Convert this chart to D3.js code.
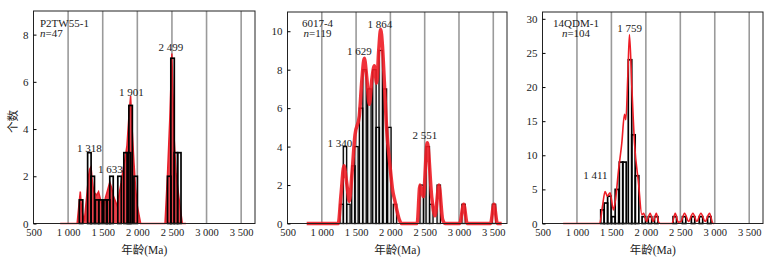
<!DOCTYPE html>
<html>
<head>
<meta charset="utf-8">
<script src="https://cdn.jsdelivr.net/npm/d3@7/dist/d3.min.js"></script>
<style>
  body { margin: 0; background: #fff; }
  text { font-family: "Liberation Serif", "Times New Roman", serif; fill: #222; }
  .cjk { font-family: "Noto Sans CJK SC", sans-serif; }
</style>
</head>
<body>
<script>
// ---- data ----
const xTicks = [500, 1000, 1500, 2000, 2500, 3000, 3500];
const gridAges = [1000, 1500, 2000, 2500, 3000, 3500];
const binWidth = 50;

// P2TW55-1
const p1Name = "P2TW55-1", p1N = 47;
const p1Start = [1162, 1282, 1331, 1394, 1442, 1515, 1554, 1602, 1718, 1805, 1855, 1878, 1951, 2436, 2484, 2533, 2581];
const p1Count = [1, 3, 2, 1, 1, 1, 1, 2, 2, 3, 3, 5, 2, 2, 7, 3, 3];
const p1CurveAge = [885, 1130, 1160, 1176, 1195, 1234, 1270, 1297, 1312, 1331, 1350, 1370, 1410, 1440, 1470, 1505, 1540, 1564, 1602, 1630, 1651, 1709, 1740, 1767, 1800, 1815, 1850, 1880, 1903, 1925, 1951, 1975, 2000, 2048, 2400, 2436, 2470, 2499, 2515, 2533, 2560, 2605, 2650, 2702];
const p1CurveVal = [0, 0, 0.9, 1.35, 0.6, 0.1, 1.2, 2.05, 2.3, 2.4, 1.8, 1.35, 1.2, 1.35, 1.0, 0.6, 1.1, 1.35, 1.75, 1.5, 1.2, 0.75, 1.3, 1.75, 2.4, 2.6, 3.3, 4.6, 5.4, 4.0, 2.6, 1.5, 0.75, 0, 0, 2.1, 4.5, 7.2, 5.5, 3.55, 2.1, 1.0, 0, 0];
const p1PeakText = ["1 318", "1 633", "1 901", "2 499"];
const p1PeakAge = [1307, 1612, 1913, 2484];
const p1PeakVal = [3.02, 2.16, 5.42, 7.29];

// 6017-4
const p2Name = "6017-4", p2N = 119;
const p2Start = [1265, 1313, 1363, 1436, 1480, 1547, 1598, 1669, 1742, 1790, 1834, 1895, 1960, 2042, 2431, 2520, 2572, 2680, 3042, 3485];
const p2Count = [1, 4, 1, 3, 4, 6, 8, 7, 8, 5, 9, 7, 5, 1, 2, 4, 1, 2, 1, 1];
const p2CurveAge = [780, 1240, 1280, 1323, 1360, 1401, 1440, 1484, 1547, 1585, 1620, 1655, 1693, 1730, 1766, 1800, 1830, 1858, 1885, 1907, 1946, 1994, 2030, 2067, 2130, 2160, 2390, 2431, 2480, 2538, 2602, 2650, 2708, 2762, 2800, 3010, 3069, 3120, 3460, 3510, 3560, 3622];
const p2CurveVal = [0, 0, 1.5, 3.0, 2.2, 1.15, 2.6, 4.6, 5.6, 7.5, 8.6, 7.6, 6.2, 7.5, 8.2, 7.3, 9.0, 10.1, 9.2, 7.7, 4.9, 3.0, 1.8, 1.15, 0.2, 0, 0, 2.0, 1.4, 4.2, 1.4, 0.4, 2.0, 0.2, 0, 0, 1.0, 0, 0, 1.0, 0, 0];
const p2PeakText = ["1 340", "1 629", "1 864", "2 551"];
const p2PeakAge = [1265, 1547, 1848, 2504];
const p2PeakVal = [4.0, 8.75, 10.15, 4.37];

// 14QDM-1
const p3Name = "14QDM-1", p3N = 104;
const p3Start = [1345, 1395, 1445, 1505, 1555, 1615, 1665, 1745, 1795, 1848, 1945, 2035, 2125, 2395, 2530, 2660, 2775, 2895];
const p3Count = [2, 3, 4, 1, 5, 9, 9, 24, 13, 7, 1, 1, 1, 1, 1, 1, 1, 1];
const p3CurveAge = [800, 1330, 1370, 1408, 1440, 1481, 1529, 1560, 1602, 1651, 1690, 1710, 1738, 1762, 1796, 1835, 1893, 1942, 1968, 2010, 2062, 2105, 2152, 2185, 2210, 2380, 2426, 2470, 2510, 2561, 2620, 2683, 2740, 2799, 2860, 2924, 2975, 2992];
const p3CurveVal = [0, 0, 2.5, 4.7, 4.0, 4.5, 2.0, 3.5, 7.7, 11.8, 16.0, 15.2, 21.6, 27.7, 20.1, 11.8, 6.0, 1.3, 1.5, 0.3, 1.5, 0.3, 1.5, 0.2, 0, 0, 1.5, 0.2, 0.3, 1.5, 0.3, 1.5, 0.3, 1.5, 0.3, 1.5, 0, 0];
const p3PeakText = ["1 411", "1 759"];
const p3PeakAge = [1268, 1765];
const p3PeakVal = [6.48, 28.1];

// ---- layout ----
const W = 776, H = 264;
const svg = d3.select("body").append("svg").attr("width", W).attr("height", H);

const panels = [
  { name: p1Name, n: p1N, starts: p1Start, counts: p1Count, cAge: p1CurveAge, cVal: p1CurveVal,
    pkText: p1PeakText, pkAge: p1PeakAge, pkVal: p1PeakVal,
    left: 33.5, right: 255, top: 11, yMax: 9, yTicks: [0, 2, 4, 6, 8], style: "spiky",
    labelX: 40, labelAnchor: "start" },
  { name: p2Name, n: p2N, starts: p2Start, counts: p2Count, cAge: p2CurveAge, cVal: p2CurveVal,
    pkText: p2PeakText, pkAge: p2PeakAge, pkVal: p2PeakVal,
    left: 287.5, right: 507, top: 12, yMax: 11, yTicks: [0, 2, 4, 6, 8, 10], style: "thick",
    labelX: 317.5, labelAnchor: "middle" },
  { name: p3Name, n: p3N, starts: p3Start, counts: p3Count, cAge: p3CurveAge, cVal: p3CurveVal,
    pkText: p3PeakText, pkAge: p3PeakAge, pkVal: p3PeakVal,
    left: 542.5, right: 763, top: 12, yMax: 31, yTicks: [0, 5, 10, 15, 20, 25, 30], style: "thin",
    labelX: 576, labelAnchor: "middle" }
];
const bottom = 223.5;

const fmt = d => d >= 1000 ? String(d).replace(/(\d)(\d{3})$/, "$1 $2") : String(d);

panels.forEach(function(p, i) {
  const x = d3.scaleLinear().domain([500, 3700]).range([p.left, p.right]);
  const y = d3.scaleLinear().domain([0, p.yMax]).range([bottom, p.top]);
  const top = p.top;

  const g = svg.append("g");

  // grid
  g.selectAll("line.grid")
    .data(gridAges)
    .join("line")
    .attr("x1", d => x(d)).attr("x2", d => x(d))
    .attr("y1", top).attr("y2", bottom)
    .attr("stroke", "#9a9a9a")
    .attr("stroke-width", 1.6);

  const bins = p.starts.map((s, j) => ({ x0: s, x1: s + binWidth, n: p.counts[j] }));

  // bar fills
  g.append("g").selectAll("rect")
    .data(bins)
    .join("rect")
    .attr("x", d => x(d.x0))
    .attr("y", d => y(d.n))
    .attr("width", d => x(d.x1) - x(d.x0))
    .attr("height", d => y(0) - y(d.n))
    .attr("fill", i === 1 ? "#e4e4e4" : "#fff");

  const pts = p.cAge.map((a, j) => [a, p.cVal[j]]);

  if (p.style === "spiky") {
    const area = d3.area().x(d => x(d[0])).y0(y(0)).y1(d => y(d[1]));
    g.append("path").datum(pts)
      .attr("d", area)
      .attr("fill", "#e8202a")
      .attr("fill-opacity", 0.85);
    g.append("path").datum(pts)
      .attr("d", d3.line().x(d => x(d[0])).y(d => y(d[1])))
      .attr("fill", "none")
      .attr("stroke", "#e8202a")
      .attr("stroke-width", 1.5);
  }

  // bar outlines
  g.append("g").selectAll("rect")
    .data(bins)
    .join("rect")
    .attr("x", d => x(d.x0))
    .attr("y", d => y(d.n))
    .attr("width", d => x(d.x1) - x(d.x0))
    .attr("height", d => y(0) - y(d.n))
    .attr("fill", "none")
    .attr("stroke", "#000")
    .attr("stroke-width", i === 1 ? 1.3 : 1.7);

  if (p.style !== "spiky") {
    const line = d3.line().x(d => x(d[0])).y(d => y(d[1])).curve(d3.curveMonotoneX);
    g.append("path").datum(pts)
      .attr("d", line)
      .attr("fill", "none")
      .attr("stroke", "#ee1c25")
      .attr("stroke-opacity", p.style === "thick" ? 0.9 : 1)
      .attr("stroke-width", p.style === "thick" ? 3.5 : 1.6);
  }

  // frame
  g.append("rect")
    .attr("x", p.left).attr("y", top)
    .attr("width", p.right - p.left).attr("height", bottom - top)
    .attr("fill", "none").attr("stroke", "#222").attr("stroke-width", 1);

  // axes
  const yAxis = g.append("g")
    .attr("transform", `translate(${p.left},0)`)
    .call(d3.axisLeft(y).tickValues(p.yTicks).tickSizeInner(-3).tickSizeOuter(0).tickPadding(5));
  yAxis.select(".domain").remove();
  yAxis.selectAll("text").attr("font-size", 11).style("font-family", "'Liberation Serif', serif");

  const xAxis = g.append("g")
    .attr("transform", `translate(0,${bottom})`)
    .call(d3.axisBottom(x).tickValues(xTicks).tickFormat(fmt).tickSize(0).tickPadding(5));
  xAxis.select(".domain").remove();
  xAxis.selectAll("text").attr("font-size", 10.5).style("font-family", "'Liberation Serif', serif");

  // sample label
  g.append("text")
    .attr("x", p.labelX).attr("y", 26.5)
    .attr("text-anchor", p.labelAnchor)
    .attr("font-size", 11)
    .text(p.name);
  const nl = g.append("text")
    .attr("x", p.labelX).attr("y", 37)
    .attr("text-anchor", p.labelAnchor)
    .attr("font-size", 11);
  nl.append("tspan").attr("font-style", "italic").text("n");
  nl.append("tspan").text("=" + p.n);

  // peak labels
  g.selectAll("text.pk")
    .data(p.pkText)
    .join("text")
    .attr("class", "pk")
    .attr("x", (d, j) => x(p.pkAge[j]))
    .attr("y", (d, j) => y(p.pkVal[j]))
    .attr("text-anchor", "middle")
    .attr("font-size", 11)
    .text(d => d);

  // x title
  const xt = g.append("text")
    .attr("x", (p.left + p.right) / 2)
    .attr("y", 254)
    .attr("text-anchor", "middle")
    .attr("font-size", 11.5);
  xt.append("tspan").attr("class", "cjk").text("年龄");
  xt.append("tspan").text("(Ma)");
});

// y title
svg.append("text")
  .attr("class", "cjk")
  .attr("transform", "translate(17,121.5) rotate(-90)")
  .attr("text-anchor", "middle")
  .attr("font-size", 11.5)
  .text("个数");
</script>
</body>
</html>
